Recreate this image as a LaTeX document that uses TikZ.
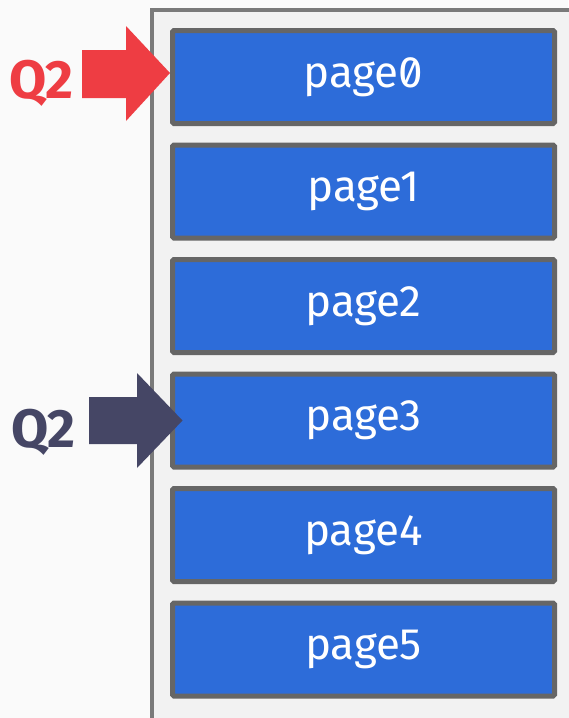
\documentclass[tikz,border=0pt]{standalone}
\usepackage{fontspec}
\setmainfont{Fira Sans}[RawFeature=+zero]
\usetikzlibrary{positioning}
\definecolor{pageblue}{HTML}{2D6CD9}
\definecolor{pageedge}{HTML}{666666}
\definecolor{poolgray}{HTML}{F2F2F2}
\definecolor{pooledge}{HTML}{7A7A7A}
\definecolor{qred}{HTML}{EE3D43}
\definecolor{qdark}{HTML}{454665}

\begin{document}
\begin{tikzpicture}[x=1pt, y=-1pt, node distance=16.5pt,
  page/.style={draw=pageedge, fill=pageblue, line width=5pt, rounded corners=1.5pt,
    minimum width=382pt, minimum height=93pt, inner sep=0pt,
    text=white, font=\fontsize{44}{44}\selectfont},
  qlabel/.style={font=\fontsize{54}{54}\selectfont\bfseries, anchor=base}]
\useasboundingbox[fill=white!60!poolgray] (0,0) rectangle (568,718);
% buffer pool frame
\fill[poolgray] (152,10) rectangle (620,760);
\draw[draw=pooledge, line width=4pt] (152,760) -- (152,10) -- (620,10);
% pages
\node[page] (p0) at (363.5,77) {page0};
\node[page, below=of p0] (p1) {page1};
\node[page, below=of p1] (p2) {page2};
\node[page, below=of p2] (p3) {page3};
\node[page, below=of p3] (p4) {page4};
\node[page, below=of p4] (p5) {page5};
% cursors
\node[qlabel, text=qred] (qa) at (41,98) {Q2};
\node[qlabel, text=qdark] (qb) at (43,447) {Q2};
\fill[qred] (82,50) -- (126,50) -- (126,26) -- (p0.west |- 0,73) -- (126,121) -- (126,98) -- (82,98) -- cycle;
\fill[qdark] (89,397) -- (137,397) -- (137,373) -- ([xshift=12.5pt]p3.west) -- (137,468) -- (137,444) -- (89,444) -- cycle;
\end{tikzpicture}
\end{document}
